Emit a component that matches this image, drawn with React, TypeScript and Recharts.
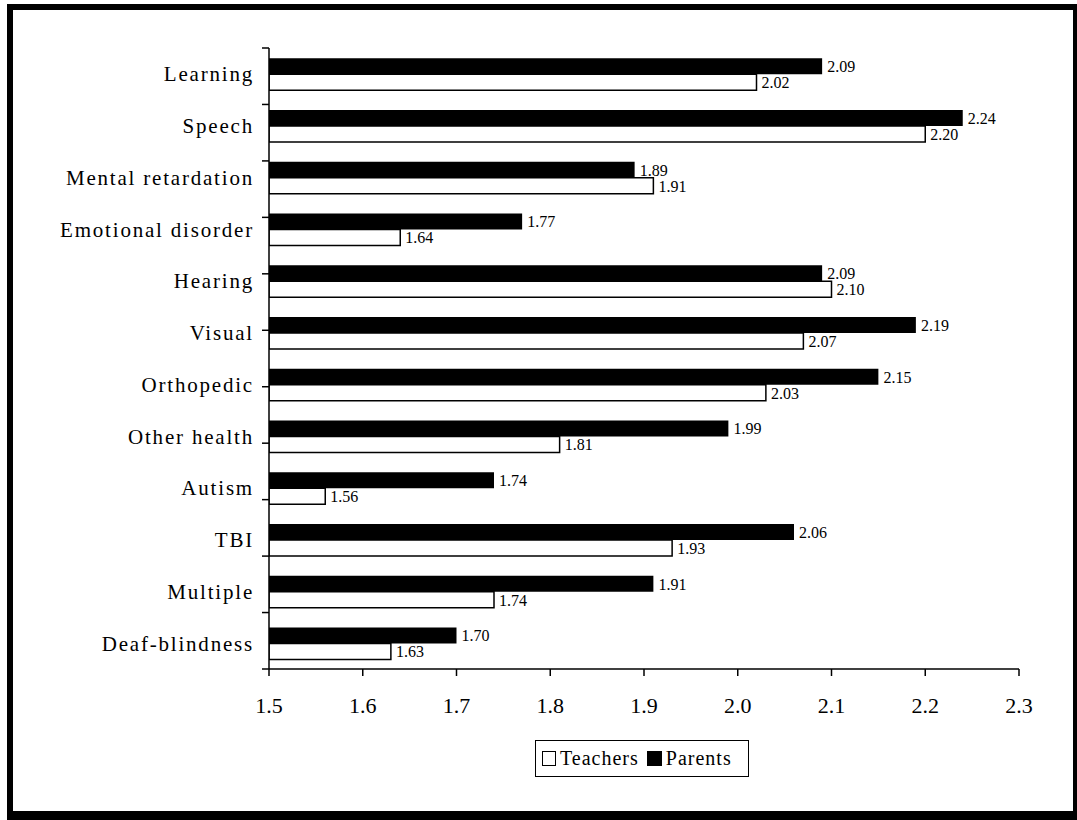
import * as React from "react";
import {
    BarChart, Bar, XAxis, YAxis, LabelList,
} from "recharts";

const categories: string[] = [
    "Learning", "Speech", "Mental retardation", "Emotional disorder",
    "Hearing", "Visual", "Orthopedic", "Other health",
    "Autism", "TBI", "Multiple", "Deaf-blindness",
];
const parents: number[] = [2.09, 2.24, 1.89, 1.77, 2.09, 2.19, 2.15, 1.99, 1.74, 2.06, 1.91, 1.70];
const teachers: number[] = [2.02, 2.20, 1.91, 1.64, 2.10, 2.07, 2.03, 1.81, 1.56, 1.93, 1.74, 1.63];
const xTicks: number[] = [1.5, 1.6, 1.7, 1.8, 1.9, 2.0, 2.1, 2.2, 2.3];
const boundaryTicks: number[] = [0, 1, 2, 3, 4, 5, 6, 7, 8, 9, 10, 11, 12];

const FONT = "'Liberation Serif', 'Times New Roman', serif";

const data = categories.map((name, i) => ({
    name,
    parents: parents[i],
    teachers: teachers[i],
}));

const fmt2 = (v: any) => Number(v).toFixed(2);

// boundary ticks only need the tick line, no text
const NoLabel = () => <g />;

export default function App() {
    return (
        <div style={{position: "absolute", left: 0, top: 0, width: 1077, height: 820, background: "#fff"}}>
            <div style={{
                position: "absolute", left: 7, top: 4, width: 1070, height: 816, boxSizing: "border-box",
                borderStyle: "solid", borderColor: "#000",
                borderTopWidth: 6, borderLeftWidth: 6, borderRightWidth: 4, borderBottomWidth: 9,
            }} />
            <div style={{position: "absolute", left: 0, top: 0}}>
                <BarChart
                    width={1077} height={820} data={data} layout="vertical"
                    barCategoryGap="20%" barGap={0}
                    margin={{top: 48, right: 58, left: 0, bottom: 91}}>
                    <XAxis type="number" domain={[1.5, 2.3]} ticks={xTicks} allowDataOverflow
                        tickFormatter={(v: number) => v.toFixed(1)}
                        stroke="#000" strokeWidth={1.5} tickSize={7} tickMargin={21} height={60}
                        tick={{fill: "#000", fontSize: 22, fontFamily: FONT}} />
                    <YAxis yAxisId="cat" type="category" dataKey="name" width={268}
                        axisLine={false} tickLine={false} tickSize={0} tickMargin={14}
                        interval={0}
                        tick={{fill: "#000", fontSize: 21, fontFamily: FONT, letterSpacing: 1.8}} />
                    <YAxis yAxisId="bounds" type="number" domain={[0, 12]} ticks={boundaryTicks}
                        reversed width={1} tick={NoLabel} tickSize={7} interval={0}
                        stroke="#000" strokeWidth={1.5} />
                    <Bar yAxisId="cat" dataKey="parents" name="Parents" fill="#000"
                        isAnimationActive={false}>
                        <LabelList dataKey="parents" position="right" offset={5}
                            formatter={fmt2}
                            style={{fill: "#000", fontSize: 16, fontFamily: FONT}} />
                    </Bar>
                    <Bar yAxisId="cat" dataKey="teachers" name="Teachers" fill="#fff"
                        stroke="#000" strokeWidth={1.5} isAnimationActive={false}>
                        <LabelList dataKey="teachers" position="right" offset={5}
                            formatter={fmt2}
                            style={{fill: "#000", stroke: "none", fontSize: 16, fontFamily: FONT}} />
                    </Bar>
                </BarChart>
            </div>
            <div style={{
                position: "absolute", left: 535, top: 740, width: 214, height: 37, boxSizing: "border-box",
                border: "1.5px solid #000", display: "flex", alignItems: "center",
                fontFamily: FONT, fontSize: 20, letterSpacing: 1, color: "#000", paddingLeft: 6,
            }}>
                <span style={{display: "inline-block", width: 12, height: 13, border: "1.5px solid #000", background: "#fff", marginRight: 4}} />
                <span style={{marginRight: 8}}>Teachers</span>
                <span style={{display: "inline-block", width: 15, height: 15, background: "#000", marginRight: 4}} />
                <span>Parents</span>
            </div>
        </div>
    );
}
